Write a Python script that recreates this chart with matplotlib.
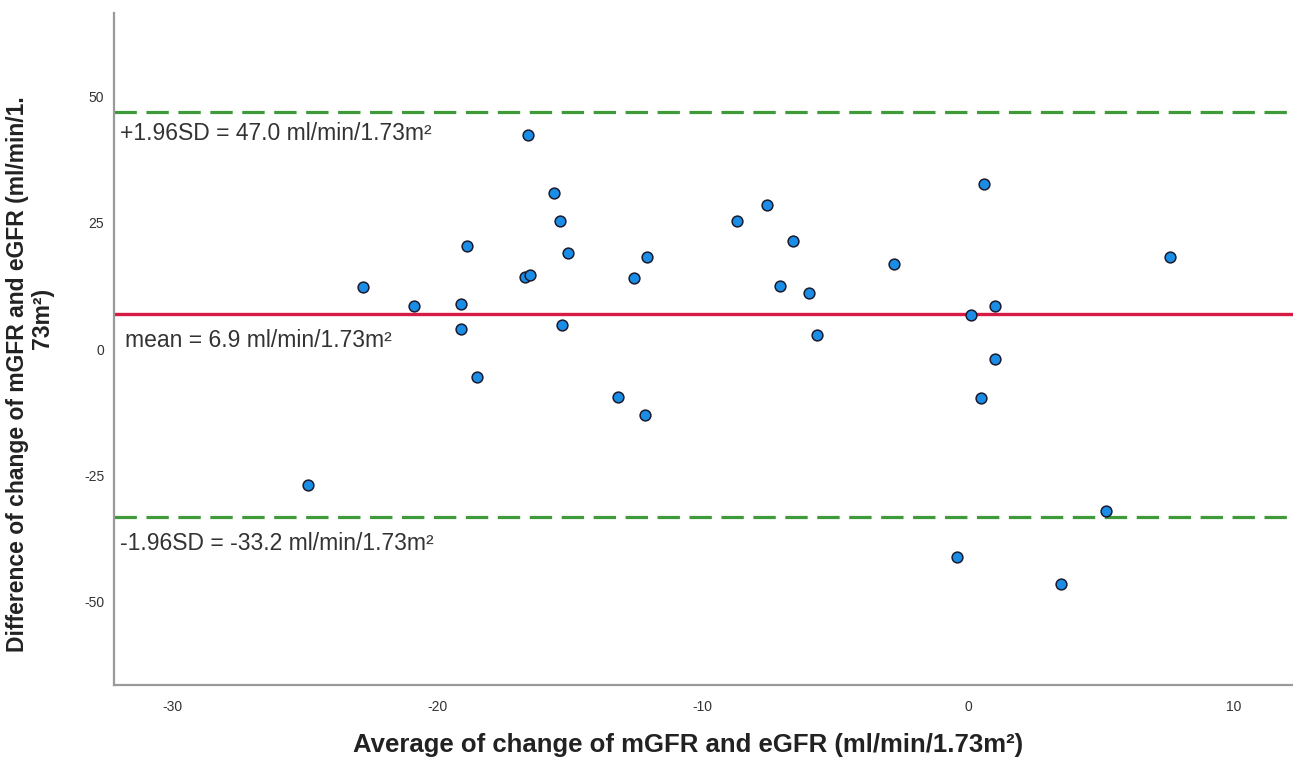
import numpy as np
import matplotlib.pyplot as plt

plt.rcParams['font.family'] = ['Liberation Sans', 'DejaVu Sans']
plt.rcParams['axes.unicode_minus'] = False

# Average of the two changes (x) and their difference (y), one point per patient
media = [-24.9, -22.8, -20.9, -19.1, -19.1, -18.9, -18.5, -16.7, -16.5, -16.6,
         -15.6, -15.4, -15.1, -15.3, -13.2, -12.6, -12.2, -12.1, -8.7, -7.6,
         -7.1, -6.6, -6.0, -5.7, -2.8, -0.4, 0.1, 0.5, 0.6, 1.0, 1.0, 3.5,
         5.2, 7.6]
diferenca = [-26.9, 12.3, 8.5, 8.9, 4.0, 20.4, -5.5, 14.3, 14.7, 42.4,
             30.9, 25.4, 19.0, 4.8, -9.5, 14.1, -13.1, 18.2, 25.4, 28.5,
             12.5, 21.4, 11.1, 2.8, 16.8, -41.2, 6.7, -9.7, 32.7, -2.0,
             8.5, -46.5, -32.1, 18.2]

# Limites de concordância
media_dif = 6.9
lim_sup = 47.0
lim_inf = -33.2

fig = plt.figure(figsize=(12.93, 7.67), dpi=100)
ax = fig.add_axes([0.0882, 0.1069, 0.9118, 0.876])

# Linhas de referência
ax.axhline(lim_sup, color='#3f9b3a', lw=2.3, ls=(0, (7, 3)), zorder=1)
ax.axhline(lim_inf, color='#3f9b3a', lw=2.3, ls=(0, (7, 3)), zorder=1)
ax.axhline(media_dif, color='#d81b45', lw=2.4, zorder=1)

# Pontos
ax.scatter(media, diferenca, s=60, c='#1a8ee6', edgecolors='#1a1a2e',
           linewidths=1.1, zorder=3)

# Textos das linhas
txt = dict(fontsize=16.5, color='#333333', va='center', ha='left')
ax.text(-31.97, lim_sup - 4.3, '+1.96SD = %.1f ml/min/1.73m²' % lim_sup, **txt)
ax.text(-31.8, media_dif - 5.3, 'mean = %.1f ml/min/1.73m²' % media_dif, **txt)
ax.text(-31.97, lim_inf - 5.2, '-1.96SD = %.1f ml/min/1.73m²' % lim_inf, **txt)

# Eixos
ax.set_xlim(-32.2, 12.25)
ax.set_ylim(-66.5, 66.5)
ax.set_xticks([-30, -20, -10, 0, 10])
ax.set_yticks([-50, -25, 0, 25, 50])
ax.tick_params(length=0, labelsize=10, colors='#333333')
ax.tick_params(axis='x', pad=11)
ax.tick_params(axis='y', pad=7)

for lado in ['top', 'right']:
    ax.spines[lado].set_visible(False)
for lado in ['left', 'bottom']:
    ax.spines[lado].set_color('#9a9a9a')
    ax.spines[lado].set_linewidth(1.6)

fig.text(0.532, 0.029, 'Average of change of mGFR and eGFR (ml/min/1.73m²)',
         fontsize=18.5, fontweight='bold', ha='center', va='center', color='#222222')
fig.text(0.0135, 0.512, 'Difference of change of mGFR and eGFR (ml/min/1.',
         fontsize=16.5, fontweight='bold', rotation=90, ha='center', va='center',
         color='#222222')
fig.text(0.0325, 0.585, '73m²)', fontsize=16.5, fontweight='bold', rotation=90,
         ha='center', va='center', color='#222222')

fig.savefig('out.png', dpi=100)
